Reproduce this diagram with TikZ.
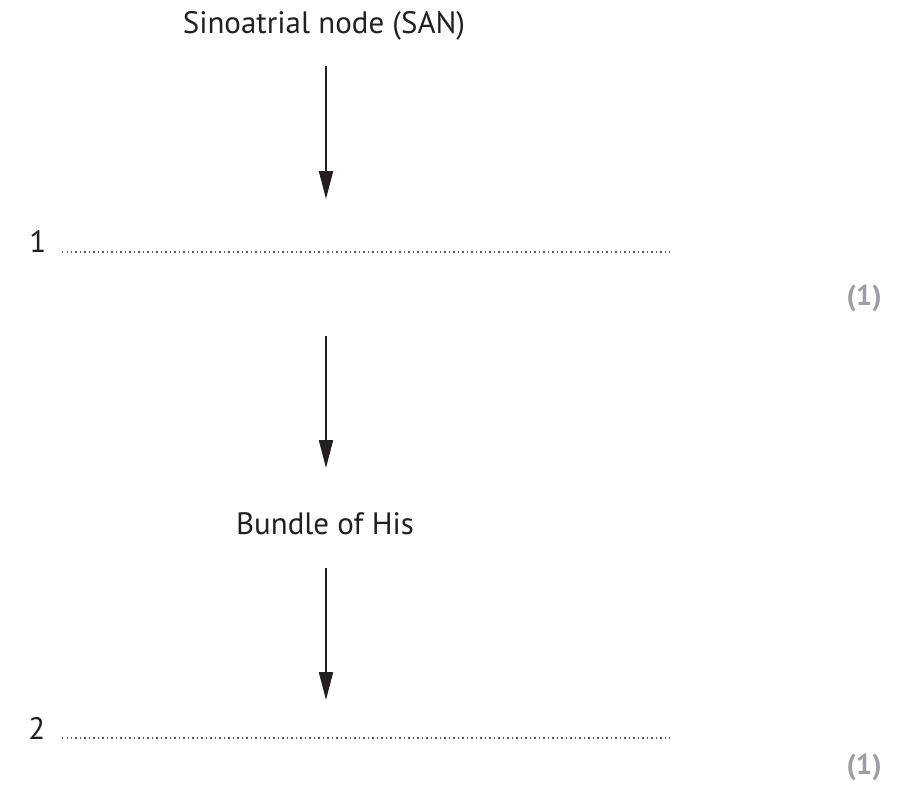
\documentclass[tikz,border=0pt]{standalone}
\usepackage{fontspec}
\setmainfont{PT Sans}
\usepackage{xcolor}
\usetikzlibrary{
  	arrows.meta,
  	positioning,
  	calc
  }
\definecolor{ink}{HTML}{231F20}
\definecolor{scoregrey}{HTML}{9D9FA2}
\tikzstyle{stage}=[text=ink,inner sep=0pt]
\tikzstyle{flow}=[draw=ink,line width=1.4pt,-{Triangle[length=19.8pt,width=9.9pt]}]
\tikzstyle{blank}=[draw=ink!75,line width=0.9pt,dash pattern=on 0.9pt off 2.3pt]
\tikzstyle{score}=[text=scoregrey,inner sep=0pt,font=\fontsize{20.5}{24}\selectfont\bfseries]

\begin{document}
\begin{tikzpicture}[x=0.025cm,y=-0.025cm,font=\fontsize{22}{26}\selectfont]
\useasboundingbox (0,0) rectangle (897,807);
\node[stage,anchor=base] (san) at (324,34) {Sinoatrial node (SAN)};
\node[stage,anchor=base west] (one) at (29,253) {1};
\coordinate (l1a) at (62,252);
\coordinate (l1b) at (670,252);
\node[score,anchor=base east] (s1) at (882,306) {(1)};
\node[stage,anchor=base] (his) at (325,535) {Bundle of His};
\node[stage,anchor=base west] (two) at (28,739) {2};
\coordinate (l2a) at (62,738);
\coordinate (l2b) at (670,738);
\node[score,anchor=base east] (s2) at (882,774) {(1)};
\coordinate (a1) at (326,66);
\coordinate (b1) at (326,199);
\coordinate (a2) at (326,336);
\coordinate (b2) at (326,468);
\coordinate (a3) at (326,568);
\coordinate (b3) at (326,700);
\draw[blank] (l1a) -- (l1b);
\draw[blank] (l2a) -- (l2b);
\draw[flow] (a1) -- (b1);
\draw[flow] (a2) -- (b2);
\draw[flow] (a3) -- (b3);
\end{tikzpicture}
\end{document}
